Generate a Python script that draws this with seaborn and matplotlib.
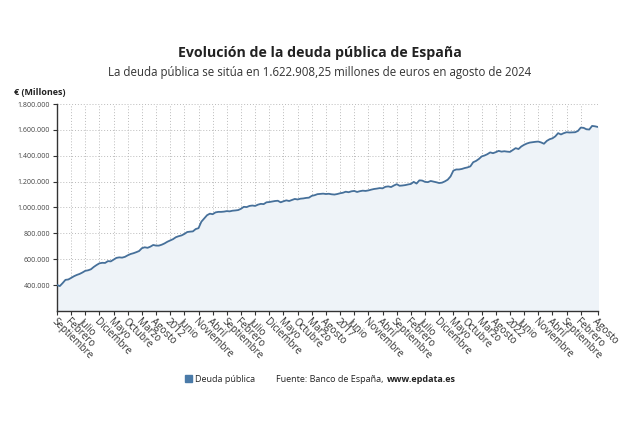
import numpy as np
import pandas as pd
import matplotlib
matplotlib.use("Agg")
import matplotlib.pyplot as plt
from matplotlib.patches import Patch
import seaborn as sns

# deuda publica mensual (miles de millones aprox.), sep 2008 - ago 2024
d2008 = [400, 392, 415, 440]
d2009 = [443, 455, 468, 478, 486, 497, 510, 514, 522, 540, 555, 568]
d2010 = [572, 571, 585, 583, 597, 610, 614, 612, 618, 630, 640, 646]
d2011 = [654, 663, 685, 692, 688, 697, 710, 705, 705, 712, 722, 735]
d2012 = [745, 755, 770, 778, 784, 795, 810, 813, 815, 833, 840, 890]
d2013 = [915, 940, 952, 948, 962, 966, 966, 968, 972, 970, 975, 977]
d2014 = [980, 990, 1005, 1003, 1012, 1015, 1012, 1022, 1028, 1026, 1040, 1042]
d2015 = [1046, 1050, 1052, 1040, 1048, 1055, 1050, 1058, 1066, 1062, 1068, 1070]
d2016 = [1074, 1076, 1090, 1095, 1103, 1105, 1107, 1104, 1106, 1102, 1100, 1104]
d2017 = [1110, 1114, 1122, 1118, 1125, 1128, 1120, 1126, 1130, 1128, 1132, 1138]
d2018 = [1143, 1146, 1150, 1148, 1160, 1163, 1158, 1170, 1180, 1168, 1170, 1173]
d2019 = [1178, 1182, 1198, 1185, 1210, 1208, 1198, 1196, 1205, 1200, 1195, 1189]
d2020 = [1192, 1202, 1215, 1240, 1285, 1294, 1294, 1298, 1305, 1310, 1318, 1350]
d2021 = [1360, 1375, 1395, 1402, 1412, 1426, 1420, 1428, 1438, 1432, 1435, 1432]
d2022 = [1430, 1445, 1459, 1452, 1472, 1485, 1495, 1502, 1505, 1508, 1510, 1503]
d2023 = [1493, 1515, 1528, 1535, 1550, 1575, 1565, 1575, 1582, 1580, 1581, 1582]
d2024 = [1592, 1618, 1616, 1605, 1603, 1631, 1628, 1623]

meses = ["Enero", "Febrero", "Marzo", "Abril", "Mayo", "Junio", "Julio",
         "Agosto", "Septiembre", "Octubre", "Noviembre", "Diciembre"]

deuda = np.array(d2008 + d2009 + d2010 + d2011 + d2012 + d2013 + d2014 + d2015
                 + d2016 + d2017 + d2018 + d2019 + d2020 + d2021 + d2022
                 + d2023 + d2024) * 1000
fechas = pd.date_range("2008-09-01", periods=len(deuda), freq="MS")
df = pd.DataFrame({"idx": np.arange(len(deuda)), "deuda": deuda, "fecha": fechas})

sns.set_style("white")
plt.rcParams["font.family"] = ["Open Sans", "DejaVu Sans"]

fig = plt.figure(figsize=(6.4, 4.3), dpi=100)
ax = fig.add_axes([0.089, 0.277, 0.845, 0.481])

line_col = "#46709a"
ax.fill_between(df["idx"], 0, df["deuda"], color="#eef3f8", zorder=1)
sns.lineplot(data=df, x="idx", y="deuda", color=line_col, linewidth=1.3, ax=ax, zorder=3)

# ticks cada 5 meses + ultimo
ticks = list(range(0, len(df) - 1, 5))
if ticks[-1] > len(df) - 4:
    ticks = ticks[:-1]
ticks.append(len(df) - 1)
labels = []
for t in ticks:
    f = df["fecha"].iloc[t]
    labels.append(str(f.year) if f.month == 1 else meses[f.month - 1])

ax.set_xlim(0, len(df) - 1)
ax.set_ylim(200000, 1800000)
ax.set_xticks(ticks)
ax.set_xticklabels(labels, rotation=-45, ha="left", va="top",
                   rotation_mode="anchor", fontsize=7.1, color="#333333")
yt = np.arange(400000, 1800001, 200000)
ax.set_yticks(yt)
ax.set_yticklabels([f"{v:,.0f}".replace(",", ".") for v in yt], fontsize=5, color="#444444")
ax.tick_params(axis="both", length=3, width=0.8, color="#333333", direction="out",
               bottom=True, left=True, pad=2)
ax.tick_params(axis="x", pad=1)
ax.grid(True, linestyle=(0, (1, 2)), color="#bbbbbb", linewidth=0.7)
ax.set_axisbelow(True)
for s in ["top", "right"]:
    ax.spines[s].set_visible(False)
for s in ["left", "bottom"]:
    ax.spines[s].set_color("#333333")
    ax.spines[s].set_linewidth(1.0)
ax.set_xlabel("")
ax.set_ylabel("")

fig.text(0.5, 0.877, "Evolución de la deuda pública de España", ha="center",
         va="center", fontsize=10.2, fontweight="bold", color="#222222")
fig.text(0.5, 0.832, "La deuda pública se sitúa en 1.622.908,25 millones de euros en agosto de 2024",
         ha="center", va="center", fontsize=8.3, color="#333333")
fig.text(0.022, 0.786, "€ (Millones)", ha="left", va="center", fontsize=6.5,
         fontweight="bold", color="#222222")

ley_y = 1 - 379 / 430
fig.legend(handles=[Patch(color="#4a7aa8", label="Deuda pública")],
           loc="center left", bbox_to_anchor=(185 / 640, ley_y), frameon=False,
           fontsize=6.5, handlelength=0.75, handleheight=0.75, handletextpad=0.4,
           borderpad=0, borderaxespad=0)
fuente = fig.text(276 / 640, ley_y, "Fuente: Banco de España, ", ha="left", va="center",
                  fontsize=6.5, color="#222222")
fig.canvas.draw()
bb = fuente.get_window_extent(renderer=fig.canvas.get_renderer())
fig.text(bb.x1 / fig.bbox.width + 0.002, ley_y, "www.epdata.es", ha="left", va="center",
         fontsize=6.5, fontweight="bold", color="#222222")

fig.savefig("out.png", dpi=100)
